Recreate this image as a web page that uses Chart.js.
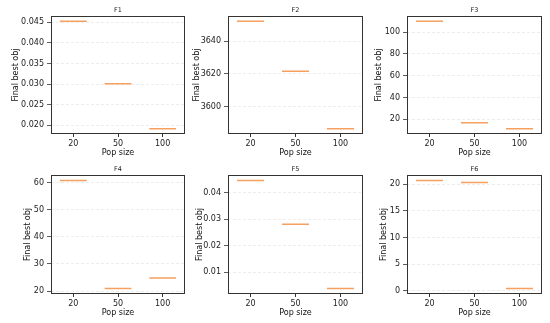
<!DOCTYPE html>
<html>
<head>
<meta charset="utf-8">
<script src="https://cdn.jsdelivr.net/npm/chart.js@4.4.0/dist/chart.umd.min.js"></script>
<style>
    body { margin: 0; background: #fff; width: 550px; height: 323px; position: relative; overflow: hidden; }
    canvas { position: absolute; }
</style>
</head>
<body>
<script>
// categories on the x axis (population size)
const categories = ['20', '50', '100'];
const panelNames = ['F1', 'F2', 'F3', 'F4', 'F5', 'F6'];

// final best objective per population size
const f1 = [0.04525, 0.0301, 0.01917];
const f2 = [3652.1, 3621.6, 3586.6];
const f3 = [109.9, 16.9, 11.4];
const f4 = [60.9, 20.9, 24.85];
const f5 = [0.04456, 0.0281, 0.0039];
const f6 = [20.7, 20.3, 0.43];

// y tick values and their labels
const yTicks1 = [0.020, 0.025, 0.030, 0.035, 0.040, 0.045];
const yTickLabels1 = ['0.020', '0.025', '0.030', '0.035', '0.040', '0.045'];
const yTicks2 = [3600, 3620, 3640];
const yTickLabels2 = ['3600', '3620', '3640'];
const yTicks3 = [20, 40, 60, 80, 100];
const yTickLabels3 = ['20', '40', '60', '80', '100'];
const yTicks4 = [20, 30, 40, 50, 60];
const yTickLabels4 = ['20', '30', '40', '50', '60'];
const yTicks5 = [0.01, 0.02, 0.03, 0.04];
const yTickLabels5 = ['0.01', '0.02', '0.03', '0.04'];
const yTicks6 = [0, 5, 10, 15, 20];
const yTickLabels6 = ['0', '5', '10', '15', '20'];

const series = [f1, f2, f3, f4, f5, f6];
const yTicks = [yTicks1, yTicks2, yTicks3, yTicks4, yTicks5, yTicks6];
const yTickLabels = [yTickLabels1, yTickLabels2, yTickLabels3, yTickLabels4, yTickLabels5, yTickLabels6];

// where each panel sits on the page
const cells = [
    { left: 9,   top: 0,   axisW: 42, boxW: 134, boxH: 118 },
    { left: 190, top: 0,   axisW: 38, boxW: 135, boxH: 118 },
    { left: 372, top: 0,   axisW: 35, boxW: 135, boxH: 118 },
    { left: 21,  top: 159, axisW: 30, boxW: 134, boxH: 119 },
    { left: 193, top: 159, axisW: 35, boxW: 135, boxH: 119 },
    { left: 377, top: 159, axisW: 30, boxW: 135, boxH: 119 }
];

const FONT = 'DejaVu Sans';

const frame = {
    id: 'frame',
    afterDraw(chart) {
        const a = chart.chartArea;
        const c = chart.ctx;
        c.save();
        c.strokeStyle = '#333';
        c.lineWidth = 1;
        c.strokeRect(Math.round(a.left) + 0.5, Math.round(a.top) + 0.5,
            Math.round(a.right - a.left) - 1, Math.round(a.bottom - a.top) - 1);
        c.restore();
    }
};

series.forEach((values, i) => {
    const L = cells[i];
    const canvas = document.createElement('canvas');
    canvas.width = L.axisW + L.boxW;
    canvas.height = 16 + L.boxH + 26;
    canvas.style.left = L.left + 'px';
    canvas.style.top = L.top + 'px';
    document.body.appendChild(canvas);

    const lo = Math.min(...values);
    const hi = Math.max(...values);
    const pad = (hi - lo) * 0.05;

    // one short horizontal segment per category (median line)
    const pts = [];
    values.forEach((v, k) => {
        pts.push({ x: k + 1 - 0.3, y: v }, { x: k + 1 + 0.3, y: v });
        if (k < values.length - 1) pts.push({ x: k + 1.5, y: null });
    });

    new Chart(canvas, {
        type: 'line',
        data: {
            datasets: [{
                data: pts,
                borderColor: '#f5a060',
                borderWidth: 1.5,
                pointRadius: 0,
                spanGaps: false,
                tension: 0
            }]
        },
        options: {
            responsive: false,
            animation: false,
            devicePixelRatio: 1,
            layout: { padding: 0 },
            plugins: {
                legend: { display: false },
                tooltip: { enabled: false },
                title: {
                    display: true,
                    fullSize: false,
                    text: panelNames[i],
                    color: '#222',
                    font: { family: FONT, size: 6.5, weight: 'normal' },
                    padding: { top: 6, bottom: 2.2 }
                }
            },
            scales: {
                x: {
                    type: 'linear',
                    min: 0.5,
                    max: 3.5,
                    afterBuildTicks: s => { s.ticks = categories.map((c, k) => ({ value: k + 1 })); },
                    afterFit: s => { s.height = 26; },
                    ticks: {
                        callback: (v, k) => categories[k],
                        color: '#222',
                        font: { family: FONT, size: 8 },
                        padding: 2,
                        maxRotation: 0
                    },
                    grid: { drawOnChartArea: false, tickLength: 3, tickColor: '#333' },
                    border: { display: false },
                    title: {
                        display: true,
                        text: 'Pop size',
                        color: '#111',
                        font: { family: FONT, size: 8 },
                        padding: { top: 2, bottom: 2 }
                    }
                },
                y: {
                    min: lo - pad,
                    max: hi + pad,
                    afterBuildTicks: s => { s.ticks = yTicks[i].map(v => ({ value: v })); },
                    afterFit: s => { s.width = L.axisW; },
                    ticks: {
                        callback: (v, k) => yTickLabels[i][k],
                        color: '#222',
                        font: { family: FONT, size: 8 },
                        padding: 3
                    },
                    grid: {
                        color: '#e9e9e9',
                        lineWidth: 0.8,
                        tickLength: 4,
                        tickColor: '#333',
                        tickBorderDash: []
                    },
                    border: { display: false, dash: [3, 2] },
                    title: {
                        display: true,
                        text: 'Final best obj',
                        color: '#111',
                        font: { family: FONT, size: 8 },
                        padding: { top: 2, bottom: 2 }
                    }
                }
            }
        },
        plugins: [frame]
    });
});
</script>
</body>
</html>
